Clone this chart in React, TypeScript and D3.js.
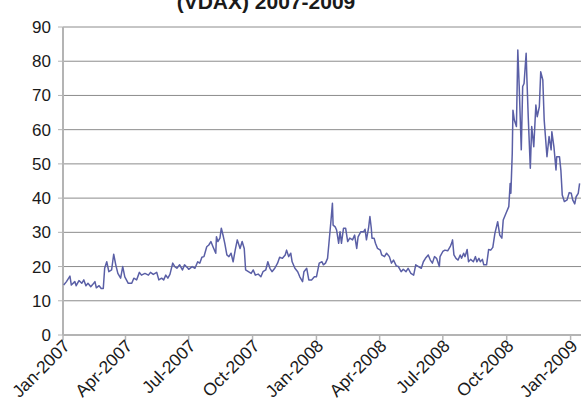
import React from 'react';
import * as d3 from 'd3';

const title = '(VDAX) 2007-2009';

const yTicks = [0, 10, 20, 30, 40, 50, 60, 70, 80, 90];

const dates = [
    '2007-01-02', '2007-01-06', '2007-01-11', '2007-01-13', '2007-01-18', '2007-01-20', '2007-01-24', '2007-01-28',
    '2007-01-31', '2007-02-03', '2007-02-06', '2007-02-10', '2007-02-13', '2007-02-16', '2007-02-18', '2007-02-22',
    '2007-02-25', '2007-02-28', '2007-03-02', '2007-03-05', '2007-03-08', '2007-03-12', '2007-03-15', '2007-03-18',
    '2007-03-21', '2007-03-25', '2007-03-28', '2007-03-31', '2007-04-05', '2007-04-10', '2007-04-13', '2007-04-17',
    '2007-04-21', '2007-04-24', '2007-04-29', '2007-05-04', '2007-05-07', '2007-05-11', '2007-05-16', '2007-05-19',
    '2007-05-23', '2007-05-26', '2007-05-29', '2007-06-01', '2007-06-04', '2007-06-08', '2007-06-11', '2007-06-14',
    '2007-06-18', '2007-06-22', '2007-06-25', '2007-06-30', '2007-07-01', '2007-07-06', '2007-07-10', '2007-07-14',
    '2007-07-17', '2007-07-20', '2007-07-23', '2007-07-27', '2007-07-30', '2007-08-02', '2007-08-05', '2007-08-09',
    '2007-08-10', '2007-08-12', '2007-08-15', '2007-08-17', '2007-08-20', '2007-08-22', '2007-08-25', '2007-08-28',
    '2007-08-31', '2007-09-03', '2007-09-06', '2007-09-09', '2007-09-13', '2007-09-16', '2007-09-19', '2007-09-21',
    '2007-09-25', '2007-09-29', '2007-10-02', '2007-10-05', '2007-10-09', '2007-10-13', '2007-10-16', '2007-10-20',
    '2007-10-23', '2007-10-26', '2007-10-29', '2007-11-02', '2007-11-06', '2007-11-09', '2007-11-13', '2007-11-17',
    '2007-11-19', '2007-11-22', '2007-11-25', '2007-11-27', '2007-12-01', '2007-12-05', '2007-12-08', '2007-12-12',
    '2007-12-14', '2007-12-18', '2007-12-21', '2007-12-25', '2007-12-29', '2008-01-01', '2008-01-05', '2008-01-09',
    '2008-01-11', '2008-01-14', '2008-01-17', '2008-01-19', '2008-01-22', '2008-01-24', '2008-01-25', '2008-01-28',
    '2008-01-30', '2008-02-02', '2008-02-04', '2008-02-06', '2008-02-09', '2008-02-12', '2008-02-15', '2008-02-18',
    '2008-02-22', '2008-02-25', '2008-02-28', '2008-03-01', '2008-03-05', '2008-03-09', '2008-03-11', '2008-03-13',
    '2008-03-16', '2008-03-18', '2008-03-20', '2008-03-21', '2008-03-24', '2008-03-26', '2008-03-29', '2008-04-02',
    '2008-04-04', '2008-04-08', '2008-04-11', '2008-04-15', '2008-04-18', '2008-04-21', '2008-04-25', '2008-04-28',
    '2008-05-02', '2008-05-05', '2008-05-09', '2008-05-12', '2008-05-16', '2008-05-20', '2008-05-23', '2008-05-27',
    '2008-05-31', '2008-06-03', '2008-06-06', '2008-06-10', '2008-06-13', '2008-06-16', '2008-06-19', '2008-06-22',
    '2008-06-26', '2008-06-27', '2008-07-01', '2008-07-04', '2008-07-08', '2008-07-12', '2008-07-14', '2008-07-15',
    '2008-07-17', '2008-07-20', '2008-07-23', '2008-07-26', '2008-07-28', '2008-07-31', '2008-08-02', '2008-08-05',
    '2008-08-07', '2008-08-10', '2008-08-14', '2008-08-17', '2008-08-19', '2008-08-22', '2008-08-24', '2008-08-27',
    '2008-08-29', '2008-09-02', '2008-09-05', '2008-09-08', '2008-09-11', '2008-09-14', '2008-09-18', '2008-09-21',
    '2008-09-24', '2008-09-26', '2008-09-30', '2008-10-04', '2008-10-06', '2008-10-07', '2008-10-09', '2008-10-10',
    '2008-10-12', '2008-10-15', '2008-10-17', '2008-10-19', '2008-10-22', '2008-10-24', '2008-10-26', '2008-10-29',
    '2008-10-30', '2008-11-01', '2008-11-04', '2008-11-06', '2008-11-09', '2008-11-12', '2008-11-14', '2008-11-17',
    '2008-11-19', '2008-11-22', '2008-11-24', '2008-11-28', '2008-12-01', '2008-12-04', '2008-12-05', '2008-12-08',
    '2008-12-11', '2008-12-12', '2008-12-16', '2008-12-18', '2008-12-20', '2008-12-23', '2008-12-27', '2008-12-30',
    '2009-01-02', '2009-01-04', '2009-01-07', '2009-01-09', '2009-01-12', '2009-01-14'
];

const vdax = [
    14.6, 15.6, 17.2, 14.6, 15.6, 14.4, 15.9, 15.1,
    16.1, 14.4, 15.1, 14.1, 14.8, 15.6, 13.8, 14.4,
    13.6, 13.6, 19.5, 21.4, 18.5, 19.0, 23.6, 20.5,
    18.0, 16.6, 20.0, 17.0, 15.1, 15.1, 16.6, 16.1,
    18.3, 17.5, 18.0, 17.5, 18.3, 17.7, 18.3, 16.1,
    16.6, 16.1, 17.5, 16.6, 17.7, 21.0, 20.0, 19.5,
    20.5, 19.0, 20.5, 19.5, 19.2, 20.0, 19.5, 21.4,
    21.0, 22.7, 22.9, 25.8, 26.3, 27.3, 25.8, 23.9,
    28.7, 27.3, 28.3, 31.2, 28.7, 26.8, 23.4, 22.9,
    23.9, 21.4, 24.8, 27.8, 25.3, 27.3, 25.3, 19.0,
    18.5, 18.0, 19.0, 17.5, 17.8, 17.0, 18.5, 19.0,
    21.4, 19.5, 18.5, 19.5, 21.0, 22.7, 22.4, 23.4,
    24.8, 22.9, 23.9, 21.4, 19.5, 18.5, 17.0, 15.6,
    18.5, 19.5, 16.1, 16.1, 17.0, 17.0, 21.0, 21.4,
    20.5, 21.0, 22.4, 26.8, 33.6, 38.5, 32.1, 31.6,
    30.7, 26.8, 30.2, 26.8, 31.2, 31.2, 27.3, 28.3,
    27.8, 29.2, 25.3, 28.7, 30.2, 30.2, 30.9, 27.8,
    31.2, 34.6, 31.2, 28.3, 28.3, 26.8, 25.3, 24.8,
    23.4, 22.9, 23.9, 22.9, 21.0, 21.9, 20.2, 20.0,
    18.5, 19.2, 18.5, 19.5, 18.0, 17.5, 20.5, 20.0,
    19.5, 21.4, 22.4, 23.4, 21.9, 21.0, 22.9, 22.4,
    20.0, 22.9, 24.4, 24.8, 24.6, 26.0, 27.0, 27.8,
    23.4, 22.4, 21.9, 23.4, 22.4, 23.9, 22.9, 25.0,
    21.4, 22.1, 21.4, 22.9, 21.4, 22.4, 21.4, 22.1,
    20.5, 20.5, 25.0, 24.8, 25.6, 29.7, 33.1, 29.2,
    28.3, 33.6, 35.6, 37.5, 44.3, 41.4, 53.1, 65.7,
    62.8, 60.9, 83.3, 72.6, 54.1, 72.6, 73.5, 82.3,
    75.5, 63.8, 48.7, 60.9, 55.0, 67.2, 63.8, 66.7,
    76.9, 74.5, 62.8, 52.1, 58.0, 54.1, 59.4, 55.0,
    48.2, 52.1, 52.1, 48.2, 40.9, 39.0, 39.5, 41.6,
    41.4, 39.5, 38.3, 40.4, 41.4, 44.3
];

const width = 581;
const height = 402;
const margin = {top: 27, right: 0, bottom: 67, left: 63};

export default function App()
{
    const parse = d3.timeParse('%Y-%m-%d');
    const data = dates.map(function(d, i)
    {
        return {date: parse(d) as Date, value: vdax[i]};
    });

    const x = d3.scaleTime()
        .domain([new Date(2007, 0, 1), new Date(2009, 0, 16)])
        .range([margin.left, width - margin.right]);

    const y = d3.scaleLinear()
        .domain([0, 90])
        .range([height - margin.bottom, margin.top]);

    const xTicks = d3.timeMonth.range(new Date(2007, 0, 1), new Date(2009, 0, 2), 3);
    const fmt = d3.timeFormat('%b-%Y');

    const line = d3.line<{date: Date, value: number}>()
        .x(function(d) { return x(d.date); })
        .y(function(d) { return y(d.value); });

    const font = '"Liberation Sans", Arial, sans-serif';
    const y0 = y(0);

    return (
        <svg width={width} height={height} style={{position: 'absolute', left: 0, top: 0}} fontFamily={font}>
            <rect width={width} height={height} fill="#fff"/>
            <text x={266} y={9} textAnchor="middle" fontSize={21} fontWeight="bold" fill="#1a1a1a">{title}</text>

            {/* grid + y labels */}
            {yTicks.map(function(t)
            {
                return (
                    <g key={t}>
                        {t > 0 && <line x1={margin.left} x2={width} y1={y(t)} y2={y(t)} stroke="#8c8c8c" strokeWidth={1}/>}
                        <line x1={margin.left - 5} x2={margin.left} y1={y(t)} y2={y(t)} stroke="#b4b4b4" strokeWidth={1}/>
                        <text x={51} y={y(t)} dy="0.35em" textAnchor="end" fontSize={17} fill="#1a1a1a">{t}</text>
                    </g>
                );
            })}

            {/* axes */}
            <line x1={margin.left} x2={margin.left} y1={margin.top} y2={y0} stroke="#b4b4b4" strokeWidth={2}/>
            <line x1={margin.left} x2={width} y1={y0} y2={y0} stroke="#b4b4b4" strokeWidth={2}/>

            {xTicks.map(function(t, i)
            {
                const px = x(t);
                return (
                    <g key={i}>
                        <line x1={px} x2={px} y1={y0} y2={y0 + 5} stroke="#b4b4b4" strokeWidth={1.5}/>
                        <text transform={'translate(' + (px + 8) + ',' + (y0 + 12) + ') rotate(-45)'}
                              textAnchor="end" fontSize={17.5} fill="#1a1a1a">{fmt(t)}</text>
                    </g>
                );
            })}

            <path d={line(data) as string} fill="none" stroke="#5a5fa6" strokeWidth={1.5} strokeLinejoin="round"/>
        </svg>
    );
}
